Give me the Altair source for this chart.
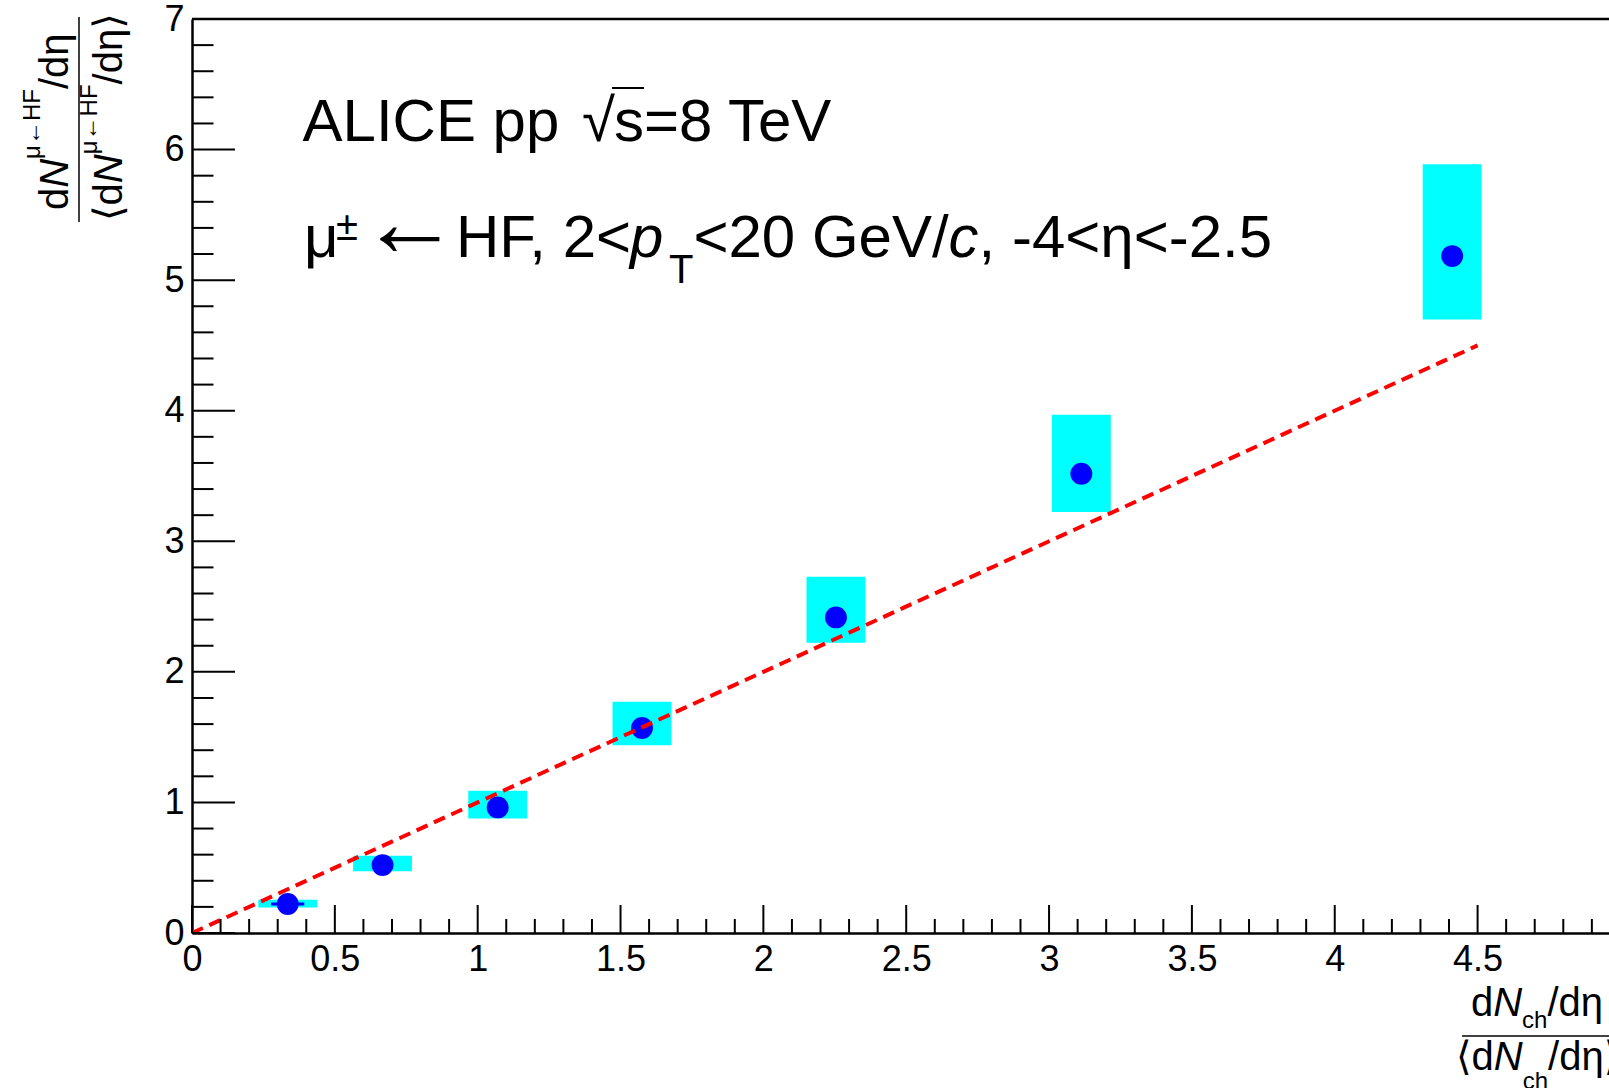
import altair as alt
import pandas as pd
import numpy as np

# ---------------- data ----------------
mult = [0.335, 0.667, 1.070, 1.575, 2.254, 3.113, 4.411]          # dNch/deta / <dNch/deta>
ratio = [0.222, 0.520, 0.962, 1.570, 2.417, 3.517, 5.184]         # dN(mu<-HF)/deta / <...>
mult_stat = [0.058, 0.03, 0.03, 0.03, 0.03, 0.03, 0.03]
syst_xhalf = [0.103, 0.103, 0.103, 0.103, 0.103, 0.103, 0.103]
syst_low = [0.195, 0.472, 0.877, 1.437, 2.223, 3.224, 4.698]
syst_high = [0.254, 0.592, 1.089, 1.771, 2.728, 3.969, 5.888]
line_x = [0.0, 4.5]
line_y = [0.0, 4.5]
x_major = [0, 0.5, 1, 1.5, 2, 2.5, 3, 3.5, 4, 4.5]
y_major = [0, 1, 2, 3, 4, 5, 6, 7]

# ---------------- geometry ----------------
W, H = 1417, 914
PL, PT = 192, 19
PB = 1088 - PT - H
FONT = "Liberation Sans, Arial, Helvetica, DejaVu Sans"

xs = alt.Scale(domain=[0, 4.96], nice=False, zero=False)
ys = alt.Scale(domain=[0, 7], nice=False, zero=False)

xaxis = alt.Axis(values=x_major, format="~g", ticks=False, tickSize=0, grid=False,
                 title=None, labelFont=FONT, labelFontSize=36, labelColor="black",
                 labelPadding=9, labelFlush=False, labelOverlap=False, labelAngle=0,
                 domainColor="black", domainWidth=2.5)
yaxis = alt.Axis(values=y_major, format="d", ticks=False, tickSize=0, grid=False,
                 title=None, labelFont=FONT, labelFontSize=36, labelColor="black",
                 labelPadding=8, labelFlush=False, labelOverlap=False,
                 domainColor="black", domainWidth=2.5)

def X(f):
    return alt.X(f, scale=xs, axis=xaxis)

def Y(f):
    return alt.Y(f, scale=ys, axis=yaxis)

pts = pd.DataFrame({
    "x": mult, "y": ratio,
    "xlo": [m - e for m, e in zip(mult, mult_stat)],
    "xhi": [m + e for m, e in zip(mult, mult_stat)],
    "bxlo": [m - e for m, e in zip(mult, syst_xhalf)],
    "bxhi": [m + e for m, e in zip(mult, syst_xhalf)],
    "bylo": syst_low, "byhi": syst_high,
})

boxes = alt.Chart(pts).mark_rect(color="#00ffff", opacity=1).encode(
    x=X("bxlo:Q"), x2="bxhi:Q", y=Y("bylo:Q"), y2="byhi:Q")

ebar = alt.Chart(pts).mark_rule(color="#0000ff", strokeWidth=3).encode(
    x=X("xlo:Q"), x2="xhi:Q", y=Y("y:Q"))

points = alt.Chart(pts).mark_circle(size=480, color="#0000ff", opacity=1).encode(
    x=X("x:Q"), y=Y("y:Q"))

line = alt.Chart(pd.DataFrame({"x": line_x, "y": line_y})).mark_line(
    color="#ff0000", strokeWidth=4, strokeDash=[12, 7]).encode(x=X("x:Q"), y=Y("y:Q"))

# ---------------- ticks (inward, ROOT style) ----------------
x_minor = [round(v, 2) for v in np.arange(0.1, 4.96, 0.1) if abs(v * 2 - round(v * 2)) > 1e-6]
y_minor = [round(v, 2) for v in np.arange(0.2, 7.0, 0.2) if abs(v - round(v)) > 1e-6]

def xticks(vals, length, width):
    return alt.Chart(pd.DataFrame({"v": vals})).mark_rule(color="black", strokeWidth=width).encode(
        x=X("v:Q"), y=alt.value(H), y2=alt.value(H - length))

def yticks(vals, length, width):
    return alt.Chart(pd.DataFrame({"v": vals})).mark_rule(color="black", strokeWidth=width).encode(
        y=Y("v:Q"), x=alt.value(0), x2=alt.value(length))

tick_layers = [xticks(x_major, 28, 2), xticks(x_minor, 14, 2),
               yticks(y_major, 43, 2), yticks(y_minor, 21.5, 2)]

frame_top = alt.Chart(pd.DataFrame({"a": [0]})).mark_rule(color="black", strokeWidth=2.5).encode(
    x=alt.value(0), x2=alt.value(W), y=alt.value(0))

# ---------------- text helpers ----------------
CW = {' ': .278, ',': .278, '-': .333, '.': .278, '/': .278, '<': .584, '=': .584,
      'A': .667, 'C': .722, 'E': .667, 'F': .611, 'G': .778, 'H': .722, 'I': .278,
      'L': .556, 'N': .722, 'T': .611, 'V': .667, 'c': .5, 'd': .556, 'e': .556,
      'h': .556, 'p': .556, 's': .5, 'μ': .576, 'η': .556, '±': .584, '←': 1.0,
      '√': .549, '⟨': .39, '⟩': .39}

def tw(s, size):
    return sum(CW.get(ch, .556) for ch in s) * size

def text_layer(s, px, py, size, italic=False, angle=0):
    kw = dict(font=FONT, fontSize=size, color="black", align="left", baseline="alphabetic")
    if italic:
        kw["fontStyle"] = "italic"
    if angle:
        kw["angle"] = angle
    return alt.Chart(pd.DataFrame({"t": [s]})).mark_text(**kw).encode(
        text="t:N", x=alt.value(px - PL), y=alt.value(py - PT))

def run_h(runs, x0, base):
    """runs: (text, size, italic, baseline shift)"""
    out, x = [], x0
    for s, size, it, dy in runs:
        out.append(text_layer(s, x, base + dy, size, it))
        x += tw(s, size)
    return out

def run_v(runs, y0, base):
    """rotated 270: reading upward, base is x of baseline"""
    out, y = [], y0
    for s, size, it, dx in runs:
        out.append(text_layer(s, base - dx, y, size, it, angle=270))
        y -= tw(s, size)
    return out

texts = []
# line 1
texts += run_h([("ALICE pp", 60, False, 0)], 302.5, 140.6)
texts += run_h([("√", 60, False, 0)], 582, 140.6)
texts += run_h([("s=8 TeV", 60, False, 0)], 614, 140.6)
sq_bar = alt.Chart(pd.DataFrame({"a": [0]})).mark_rule(color="black", strokeWidth=2).encode(
    x=alt.value(612 - PL), x2=alt.value(644 - PL), y=alt.value(88 - PT))
# line 2
L2 = 256.5
texts += run_h([("μ", 60, False, 0)], 304, L2)
texts += run_h([("±", 40, False, -17)], 336, L2)
texts += run_h([("←", 100, False, 0)], 360, L2 - 1)
texts += run_h([("HF, 2<", 60, False, 0)], 456, L2)
texts += run_h([("p", 60, True, 0)], 630, L2)
texts += run_h([("T", 40, False, 26), ("<20 GeV/", 60, False, 0),
                ("c", 60, True, 0), (", -4<η<-2.5", 60, False, 0)], 669, L2)

# y title (rotated fraction)
texts += run_v([("d", 40, False, 0), ("N", 40, True, 0), ("μ←HF", 24, False, 28),
                ("/dη", 40, False, 0)], 210, 68)
texts += run_v([("⟨", 40, False, 0), ("d", 40, False, 0), ("N", 40, True, 0),
                ("μ←HF", 24, False, 25), ("/dη", 40, False, 0), ("⟩", 40, False, 0)], 221, 121.7)
ybar = alt.Chart(pd.DataFrame({"a": [0]})).mark_rule(color="black", strokeWidth=1.5).encode(
    x=alt.value(79 - PL), y=alt.value(17 - PT), y2=alt.value(222 - PT))

# x title (fraction, cut at right edge like the reference)
texts += run_h([("d", 40, False, 0), ("N", 40, True, 0), ("ch", 24, False, 11.5),
                ("/dη", 40, False, 0)], 1471, 1016)
texts += run_h([("⟨", 40, False, 0), ("d", 40, False, 0), ("N", 40, True, 0),
                ("ch", 24, False, 19), ("/dη", 40, False, 0), ("⟩", 40, False, 0)], 1456, 1070)
xbar = alt.Chart(pd.DataFrame({"a": [0]})).mark_rule(color="black", strokeWidth=1.5).encode(
    x=alt.value(1462 - PL), x2=alt.value(1700 - PL), y=alt.value(1036 - PT))

chart = alt.layer(boxes, ebar, points, line, *tick_layers, frame_top, sq_bar, ybar, xbar,
                  *texts).properties(
    width=W, height=H,
    padding={"left": PL, "top": PT, "right": 0, "bottom": PB},
    autosize=alt.AutoSizeParams(type="none"),
    background="white",
).configure_view(strokeWidth=0)

chart.save("out.html", embed_options={"renderer": "svg", "actions": False})
